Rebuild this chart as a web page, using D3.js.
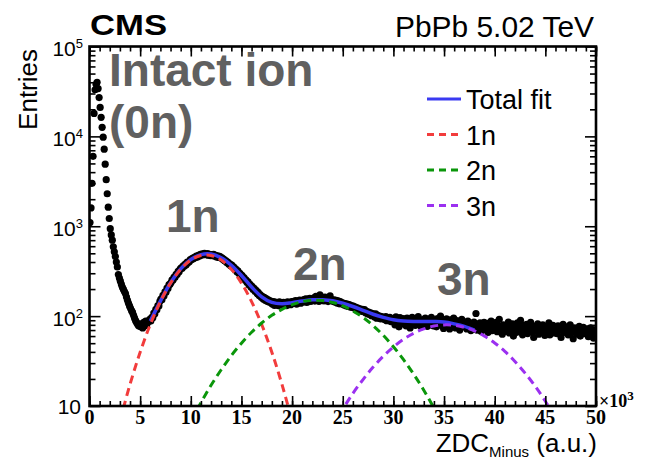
<!DOCTYPE html>
<html><head><meta charset="utf-8">
<script src="https://cdn.jsdelivr.net/npm/d3@7"></script>
<style>body{margin:0;background:#fff} svg{display:block}</style>
</head><body>
<svg id="c" width="645" height="462"></svg>
<script>
// ---------- data ----------
const binWidth = 0.1; // in units of 10^3 ZDC a.u.
const entries = [
1100,1600,3000,6000,18000,33000,38000,40000,34000,27000,
21000,16300,12600,9800,7200,4900,3300,2300,1630,1220,
940,800,700,590,520,460,400,352,290,265,
245,225,209,198,188,178,163,150,139,130,
122,115,110,102,95,89,85,81,78,80,
76,82,74,85,78,88,80,86,88,92,
88,97,96,108,106,119,118,131,130,146,
155,152,170,168,186,184,205,203,224,226,
236,254,252,272,270,292,290,315,311,334,
345,340,362,358,380,372,398,394,404,425,
424,440,436,452,446,465,455,474,468,488,
478,492,483,498,486,481,496,477,488,472,
485,470,488,466,476,455,468,450,461,442,
448,428,432,410,415,395,398,378,382,362,
370,350,352,330,334,312,318,298,300,282,
284,266,268,250,253,236,240,222,226,210,
214,198,204,188,193,178,184,170,174,162,
166,155,162,150,157,146,152,143,148,140,
136,145,132,143,134,141,131,144,135,140,
133,142,136,140,131,144,137,139,134,145,
138,146,140,149,136,147,142,151,139,148,
144,153,147,156,142,155,149,158,146,153,
150,160,147,166,151,158,146,172,153,149,
155,148,163,150,158,145,154,168,149,152,
146,152,143,150,140,148,137,145,142,136,
140,133,138,130,136,128,134,126,131,125,
129,122,126,119,124,116,121,118,113,119,
114,118,109,113,106,111,104,109,101,107,
103,98,106,95,102,96,100,93,99,95,
96,91,99,89,95,92,97,87,94,90,
93,80,98,85,90,76,96,88,82,94,
86,92,78,95,84,88,74,90,97,83,
89,79,93,84,99,80,87,76,91,85,
82,95,86,77,92,88,80,97,84,78,
90,83,76,94,81,87,100,79,85,73,
88,80,93,77,85,72,91,83,78,95,
81,74,89,79,86,70,84,92,76,82,
78,85,72,88,75,80,69,83,77,86,
74,107,70,81,76,84,68,79,73,85,
77,70,83,66,79,74,88,69,76,81,
72,85,67,78,92,70,75,63,80,74,
68,79,73,86,65,77,71,82,60,75,
78,66,84,72,69,90,74,62,79,71,
73,81,64,76,70,85,67,74,58,77,
69,75,82,63,78,71,66,80,72,61,
76,68,73,84,62,74,70,79,65,72,
71,64,78,69,75,58,73,81,66,70,
67,76,62,72,80,65,70,56,74,68,
73,63,69,77,60,71,66,75,64,70,
65,72,59,68,74,62,70,57,67,71
];

const fitTotalX = [6,7,8,9,10,11,12,13,14,15,16,17,18,19,20,21,22,23,24,25,26,27,28,29,30,31,32,33,34,35,36,37,38];
const fitTotalY = [88,147,235,336,427,484,490,445,368,283,211,164,142,137,141,147,152,152,148,139,128,116,105,97,91,88,87,87,87,86,82,77,70];

const fit1nX = [3,4,5,6,7,8,9,10,11,12,13,14,15,16,17,18,19,20];
const fit1nY = [6.8,17.4,39.7,80.6,145,233,332,420,473,473,420,332,233,145,80.6,39.7,17.4,6.8];

const fit2nX = [10,11,12,13,14,15,16,17,18,19,20,21,22,23,24,25,26,27,28,29,30,31,32,33,34,35];
const fit2nY = [6.8,10.9,17.0,25.3,36.4,50.0,66.1,83.8,102,119,134,145,150,149,142,130,114,96.7,78.4,61.1,45.7,32.8,22.6,15.0,9.5,5.8];

const fit3nX = [24,25,26,27,28,29,30,31,32,33,34,35,36,37,38,39,40,41,42,43,44,45,46];
const fit3nY = [5.9,9.2,13.8,19.7,27.1,35.8,45.4,55.2,64.4,72.1,77.5,79.9,79.1,75.1,68.5,59.9,50.3,40.5,31.3,23.2,16.6,11.3,7.4];

const xTickLabels = [0,5,10,15,20,25,30,35,40,45,50];
const yTickValues = [10,100,1000,10000,100000];
const legendLabels = ["Total fit","1n","2n","3n"];
const legendColors = ["#3a3af2","#f23c3c","#0a960a","#9b30f0"];
const peakLabels = ["Intact ion","(0n)","1n","2n","3n"];

// ---------- layout ----------
const m = {l:89.5, r:596, t:46.5, b:406};
const svg = d3.select("#c");
const sans = "'Liberation Sans', Arial, Helvetica, sans-serif";
const serif = "'Liberation Serif', 'Times New Roman', serif";

const x = d3.scaleLinear().domain([0,50]).range([m.l, m.r]);
const y = d3.scaleLog().domain([10,1e5]).range([m.b, m.t]);

svg.append("defs").append("clipPath").attr("id","plot")
  .append("rect").attr("x",m.l).attr("y",m.t).attr("width",m.r-m.l).attr("height",m.b-m.t);

const plot = svg.append("g").attr("clip-path","url(#plot)");

// data points
const pts = entries.map((v,i)=>({x:(i+0.5)*binWidth, y:v}));
plot.append("g").selectAll("circle").data(pts).join("circle")
  .attr("cx",d=>x(d.x)).attr("cy",d=>y(d.y)).attr("r",3.6).attr("fill","#000");

const line = d3.line().x(d=>x(d[0])).y(d=>y(d[1])).curve(d3.curveCatmullRom);
const zip = (a,b)=>a.map((v,i)=>[v,b[i]]);

plot.append("path").attr("d",line(zip(fitTotalX,fitTotalY)))
  .attr("fill","none").attr("stroke",legendColors[0]).attr("stroke-width",3.5);
[[fit1nX,fit1nY,1],[fit2nX,fit2nY,2],[fit3nX,fit3nY,3]].forEach(([xs,ys,k])=>{
  plot.append("path").attr("d",line(zip(xs,ys)))
    .attr("fill","none").attr("stroke",legendColors[k]).attr("stroke-width",3)
    .attr("stroke-dasharray","8,5");
});

// ---------- axes ----------
const minorX = d3.range(0,51,1);
const majorX = xTickLabels;
const minorY = [];
[10,100,1000,10000].forEach(d=>{for(let k=2;k<=9;k++) minorY.push(d*k);});

function styleAxis(g){
  g.select(".domain").remove();
  g.selectAll("line").attr("stroke","#000").attr("stroke-width",1.6);
  g.selectAll("text").remove();
}
svg.append("g").attr("transform",`translate(0,${m.b})`).call(d3.axisBottom(x).tickValues(majorX).tickSize(-10)).call(styleAxis);
svg.append("g").attr("transform",`translate(0,${m.b})`).call(d3.axisBottom(x).tickValues(minorX).tickSize(-5)).call(styleAxis);
svg.append("g").attr("transform",`translate(0,${m.t})`).call(d3.axisTop(x).tickValues(majorX).tickSize(-10)).call(styleAxis);
svg.append("g").attr("transform",`translate(0,${m.t})`).call(d3.axisTop(x).tickValues(minorX).tickSize(-5)).call(styleAxis);
svg.append("g").attr("transform",`translate(${m.l},0)`).call(d3.axisLeft(y).tickValues(yTickValues).tickSize(-11)).call(styleAxis);
svg.append("g").attr("transform",`translate(${m.l},0)`).call(d3.axisLeft(y).tickValues(minorY).tickSize(-6)).call(styleAxis);
svg.append("g").attr("transform",`translate(${m.r},0)`).call(d3.axisRight(y).tickValues(yTickValues).tickSize(-11)).call(styleAxis);
svg.append("g").attr("transform",`translate(${m.r},0)`).call(d3.axisRight(y).tickValues(minorY).tickSize(-6)).call(styleAxis);

// frame
svg.append("rect").attr("x",m.l).attr("y",m.t).attr("width",m.r-m.l).attr("height",m.b-m.t)
  .attr("fill","none").attr("stroke","#000").attr("stroke-width",2.6);

// x tick labels
svg.append("g").selectAll("text").data(xTickLabels).join("text")
  .attr("x",d=>x(d)).attr("y",424).attr("text-anchor","middle")
  .attr("font-family",serif).attr("font-weight","bold").attr("font-size",20)
  .text(d=>d);
const xm = svg.append("text").attr("x",599).attr("y",407)
  .attr("font-family",serif).attr("font-weight","bold").attr("font-size",18);
xm.append("tspan").text("\u00d710");
xm.append("tspan").attr("dy",-7).attr("font-size",13).text("3");

// y tick labels
yTickValues.forEach(v=>{
  const p = Math.round(Math.log10(v));
  const t = svg.append("text").attr("text-anchor","end").attr("font-family",sans).attr("font-size",21);
  if(p===1){
    t.attr("x",81).attr("y",y(v)+7.5).text("10");
  } else {
    t.attr("x",83).attr("y",y(v)+9.5);
    t.append("tspan").text("10");
    t.append("tspan").attr("dy",-8).attr("font-size",13).text(p);
  }
});

// axis titles
svg.append("text").attr("transform","translate(37,49) rotate(-90)").attr("text-anchor","end")
  .attr("font-family",sans).attr("font-size",26).text("Entries");
const xt = svg.append("text").attr("x",597).attr("y",452).attr("text-anchor","end")
  .attr("font-family",sans).attr("font-size",26);
xt.append("tspan").text("ZDC");
xt.append("tspan").attr("dy",5).attr("font-size",15).text("Minus");
xt.append("tspan").attr("dy",-5).text(" (a.u.)");

// header
svg.append("text").attr("x",90).attr("y",35).attr("font-family",sans).attr("font-weight","bold")
  .attr("font-size",30).attr("textLength",77).attr("lengthAdjust","spacingAndGlyphs").text("CMS");
svg.append("text").attr("x",594).attr("y",37).attr("text-anchor","end").attr("font-family",sans)
  .attr("font-size",29).attr("textLength",199).attr("lengthAdjust","spacingAndGlyphs").text("PbPb 5.02 TeV");

// gray peak labels
const peakPos = [[109,86],[109,138],[166,232],[293,280],[437,295]];
svg.append("g").selectAll("text").data(peakLabels).join("text")
  .attr("x",(d,i)=>peakPos[i][0]).attr("y",(d,i)=>peakPos[i][1])
  .attr("font-family",sans).attr("font-weight","bold").attr("font-size",46).attr("fill","#606060")
  .text(d=>d);

// legend
const lg = svg.append("g");
legendLabels.forEach((lab,i)=>{
  const by = 109 + i*35.5;
  lg.append("line").attr("x1",427).attr("x2",461).attr("y1",by-10).attr("y2",by-10)
    .attr("stroke",legendColors[i]).attr("stroke-width",3)
    .attr("stroke-dasharray", i===0 ? null : "7,5");
  lg.append("text").attr("x",466).attr("y",by).attr("font-family",sans).attr("font-size",27).text(lab);
});
</script>
</body></html>
